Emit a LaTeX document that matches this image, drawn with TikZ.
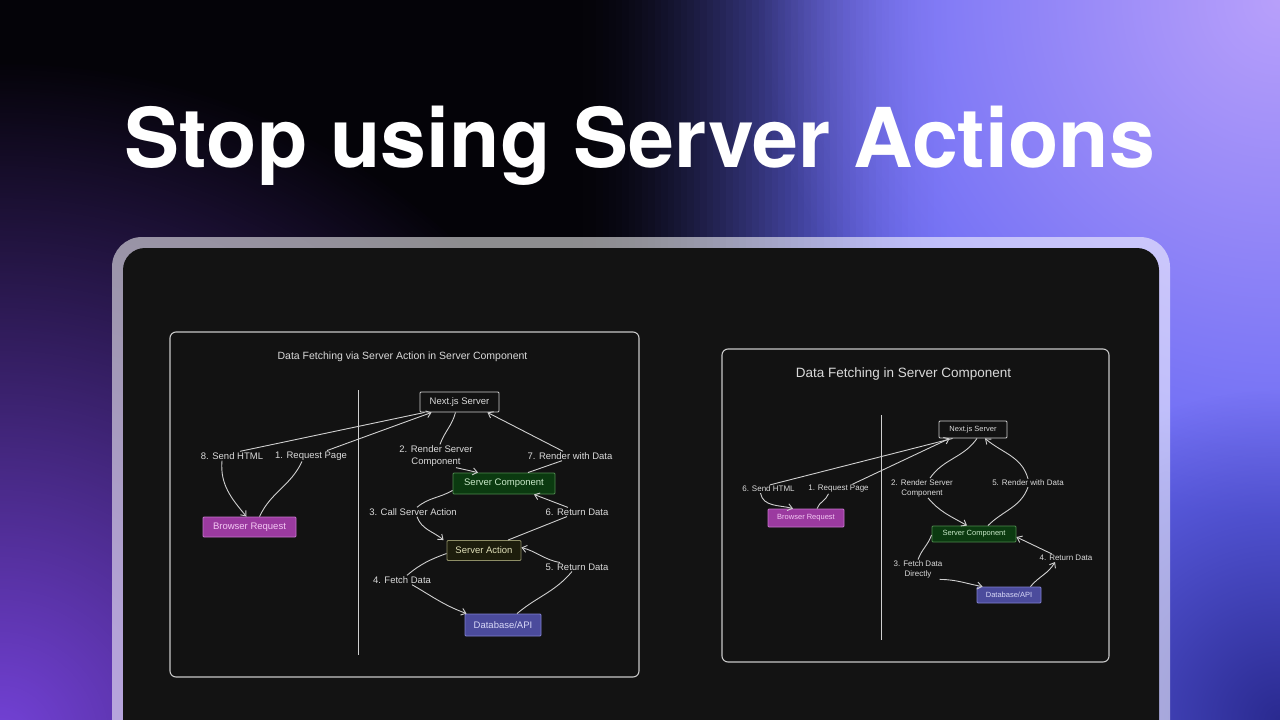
\documentclass[tikz,border=0pt]{standalone}
\usepackage{graphicx}
\usepackage{fontspec}
\setmainfont{Liberation Sans}
\newfontfamily\titlefont{TeX Gyre Heros}
\usetikzlibrary{arrows.meta,fadings}

\definecolor{bgblack}{HTML}{040308}
\definecolor{blobblue}{HTML}{6668F4}
\definecolor{bloblav}{HTML}{B8A0FB}
\definecolor{blobpurple}{HTML}{7442D8}
\definecolor{blobdeep}{HTML}{2A2A90}
\definecolor{panelbg}{HTML}{131313}
\definecolor{framebg}{HTML}{121212}
\definecolor{framec}{HTML}{C8C8C8}
\definecolor{linec}{HTML}{CFCFCF}
\definecolor{txt}{HTML}{DADADA}
\definecolor{scfill}{HTML}{0B3A10}
\definecolor{scdraw}{HTML}{4E8A4E}
\definecolor{sctext}{HTML}{C8E8C8}
\definecolor{safill}{HTML}{1D1D0C}
\definecolor{sadraw}{HTML}{8E8E66}
\definecolor{satext}{HTML}{E0E0B8}
\definecolor{dbfill}{HTML}{4B4B9C}
\definecolor{dbdraw}{HTML}{8080D0}
\definecolor{dbtext}{HTML}{D8D8F8}
\definecolor{brfill}{HTML}{9B3AA0}
\definecolor{brdraw}{HTML}{C673CC}
\definecolor{brtext}{HTML}{F4C8F4}

\tikzfading[name=blobfade, inner color=transparent!0, outer color=transparent!100]

\tikzset{
  frame/.style={draw=framec, fill=framebg, line width=1.1pt, rounded corners=6pt},
  divider/.style={draw=linec, line width=1pt},
  boxbase/.style={rectangle, inner sep=0pt, line width=0.9pt, rounded corners=1pt},
  lbox/.style={boxbase, font=\fontsize{9.5}{11}\selectfont},
  rbox/.style={boxbase, font=\fontsize{7.5}{9}\selectfont},
  nsc/.style={draw=linec, fill=framebg, text=txt},
  scc/.style={draw=scdraw, fill=scfill, text=sctext},
  sac/.style={draw=sadraw, fill=safill, text=satext},
  dbc/.style={draw=dbdraw, fill=dbfill, text=dbtext},
  brc/.style={draw=brdraw, fill=brfill, text=brtext},
  llbl/.style={font=\fontsize{9.5}{12}\selectfont, text=txt, align=center, inner sep=1pt},
  rlbl/.style={font=\fontsize{8}{10}\selectfont, text=txt, align=center, inner sep=1pt},
  ln/.style={draw=linec, line width=0.9pt},
  arr/.style={ln, -{Straight Barb[length=4.5pt,width=7pt]}}
}

\begin{document}
\begin{tikzpicture}[x=1pt,y=-1pt]
\useasboundingbox (0,0) rectangle (1280,720);
\begin{scope}
\clip (0,0) rectangle (1280,720);
\fill[bgblack] (0,0) rectangle (1280,720);
% horizontal black-to-blue transition, drawn as thin strips
\foreach \i in {0,...,59} {
  \pgfmathsetmacro\tt{(\i+0.5)/60}
  \pgfmathsetmacro\pp{100*\tt*\tt*(3-2*\tt)}
  \pgfmathsetmacro\xa{570+\i*6.5}
  \fill[blobblue!\pp!bgblack] (\xa,0) rectangle (\xa+7,720);
}
\fill[blobblue] (959,0) rectangle (1280,720);
\fill[bloblav, path fading=blobfade] (1280,0) circle (520pt);
\fill[blobpurple, path fading=blobfade] (0,740) circle (680pt);
\fill[blobdeep, path fading=blobfade] (1280,720) circle (330pt);
% panel
\fill[white, opacity=0.55, rounded corners=30pt] (112,237) rectangle (1170,790);
\fill[panelbg, rounded corners=22pt] (123,248) rectangle (1159,790);
\end{scope}

% main title
\node[anchor=base, text=white, inner sep=0pt] (title) at (640,167)
  {\resizebox{1030pt}{!}{\titlefont\bfseries\fontsize{82}{82}\selectfont Stop using Server Actions}};

% ================= LEFT DIAGRAM =================
\draw[frame] (170,332) rectangle (639,677);
\node[text=txt, font=\fontsize{10.5}{12}\selectfont, inner sep=0pt] (ltitle) at (402.5,357) {Data Fetching via Server Action in Server Component};
\draw[divider] (358,390) -- (358,655);

\node[lbox, nsc, minimum width=79pt, minimum height=20pt] (lns) at (459.5,402) {Next.js Server};
\node[lbox, scc, minimum width=102pt, minimum height=21pt] (lsc) at (504,483.5) {Server Component};
\node[lbox, sac, minimum width=74pt, minimum height=20pt] (lsa) at (484,550.5) {Server Action};
\node[lbox, dbc, minimum width=76pt, minimum height=22pt] (ldb) at (503,625) {Database/API};
\node[lbox, brc, minimum width=93pt, minimum height=20pt] (lbr) at (249.5,527) {Browser Request};

\node[llbl] (l8) at (232,456) {8. Send HTML};
\node[llbl] (l1) at (311,456) {1. Request Page};
\node[llbl] (l2) at (436,456) {2. Render Server\\Component};
\node[llbl] (l7) at (570,456) {7. Render with Data};
\node[llbl] (l3) at (413,512) {3. Call Server Action};
\node[llbl] (l6) at (577,512) {6. Return Data};
\node[llbl] (l4) at (402,580) {4. Fetch Data};
\node[llbl] (l5) at (577,567) {5. Return Data};

% 8. Send HTML
\draw[ln] ([xshift=5pt]lns.south west) -- ([xshift=8pt]l8.north);
\draw[arr] ([xshift=-10pt]l8.south) to[out=-95,in=130] ([xshift=-3pt]lbr.north);
% 1. Request Page
\draw[ln] ([xshift=10pt]lbr.north) to[out=65,in=-115] ([xshift=-9pt]l1.south);
\draw[arr] ([xshift=16pt]l1.north) -- ([xshift=12pt]lns.south west);
% 2. Render Server Component
\draw[ln] ([xshift=-4pt]lns.south) to[out=-105,in=70] ([xshift=4pt]l2.north);
\draw[arr] ([xshift=20pt]l2.south) -- ([xshift=-26pt]lsc.north);
% 7. Render with Data
\draw[ln] ([xshift=24pt]lsc.north) -- ([xshift=-8pt]l7.south);
\draw[arr] ([xshift=-7pt]l7.north) -- ([xshift=-12pt]lns.south east);
% 3. Call Server Action
\draw[ln] ([yshift=4pt]lsc.south west) to[out=-150,in=40] ([xshift=4pt]l3.north);
\draw[arr] ([xshift=4pt]l3.south) to[out=-70,in=140] ([xshift=-3pt]lsa.north west);
% 6. Return Data
\draw[ln] ([xshift=24pt]lsa.north) -- ([xshift=-10pt]l6.south);
\draw[arr] ([xshift=-9pt]l6.north) -- ([xshift=30pt]lsc.south);
% 4. Fetch Data
\draw[ln] ([yshift=-3pt]lsa.west) to[out=-160,in=40] ([xshift=5pt]l4.north);
\draw[arr] ([xshift=10pt]l4.south) to[out=-30,in=160] ([xshift=2pt]ldb.north west);
% 5. Return Data
\draw[ln] ([xshift=14pt]ldb.north) to[out=40,in=-130] ([xshift=-5pt]l5.south);
\draw[arr] ([xshift=-17pt]l5.north) to[out=170,in=-15] ([yshift=3pt]lsa.east);

% ================= RIGHT DIAGRAM =================
\draw[frame] (722,349) rectangle (1109,662);
\node[text=txt, font=\fontsize{13.5}{15}\selectfont, inner sep=0pt] (rtitle) at (903.5,374) {Data Fetching in Server Component};
\draw[divider] (881,415) -- (881,640);

\node[rbox, nsc, minimum width=68pt, minimum height=17pt] (rns) at (973,429.5) {Next.js Server};
\node[rbox, brc, minimum width=76pt, minimum height=18pt] (rbr) at (806,518) {Browser Request};
\node[rbox, scc, minimum width=84pt, minimum height=16pt] (rsc) at (974,534) {Server Component};
\node[rbox, dbc, minimum width=64pt, minimum height=16pt] (rdb) at (1009,595) {Database/API};

\node[rlbl] (r6) at (768.5,489) {6. Send HTML};
\node[rlbl] (r1) at (838.5,489) {1. Request Page};
\node[rlbl] (r2) at (922,488) {2. Render Server\\Component};
\node[rlbl] (r5) at (1028,483) {5. Render with Data};
\node[rlbl] (r3) at (918,569.5) {3. Fetch Data\\Directly};
\node[rlbl] (r4) at (1066,558) {4. Return Data};

% 6. Send HTML
\draw[ln] ([xshift=14pt]rns.south west) -- ([xshift=1.5pt]r6.north);
\draw[arr] ([xshift=-8pt]r6.south) to[out=-80,in=165] ([xshift=-13pt]rbr.north);
% 1. Request Page
\draw[ln] ([xshift=11pt]rbr.north) to[out=70,in=-110] ([xshift=-10pt]r1.south);
\draw[arr] ([xshift=14pt]r1.north) -- ([xshift=11pt]rns.south west);
% 2. Render Server Component
\draw[ln] ([xshift=4pt]rns.south) to[out=-125,in=55] ([xshift=8pt]r2.north);
\draw[arr] ([xshift=6pt]r2.south) to[out=-50,in=150] ([xshift=-7pt]rsc.north);
% 5. Render with Data
\draw[ln] ([xshift=14pt]rsc.north) to[out=45,in=-110] (r5.south);
\draw[arr] (r5.north) to[out=105,in=-40] ([xshift=12pt]rns.south);
% 3. Fetch Data Directly
\draw[ln] ([yshift=-1pt]rsc.west) to[out=-110,in=70] (r3.north);
\draw[arr] ([xshift=-4pt]r3.south east) to[out=0,in=170] ([xshift=6pt]rdb.north west);
% 4. Return Data
\draw[arr] ([xshift=-11pt]rdb.north east) to[out=50,in=-120] ([xshift=-11pt]r4.south);
\draw[arr] ([xshift=-14pt]r4.north) -- ([yshift=-3pt]rsc.east);
\end{tikzpicture}
\end{document}
